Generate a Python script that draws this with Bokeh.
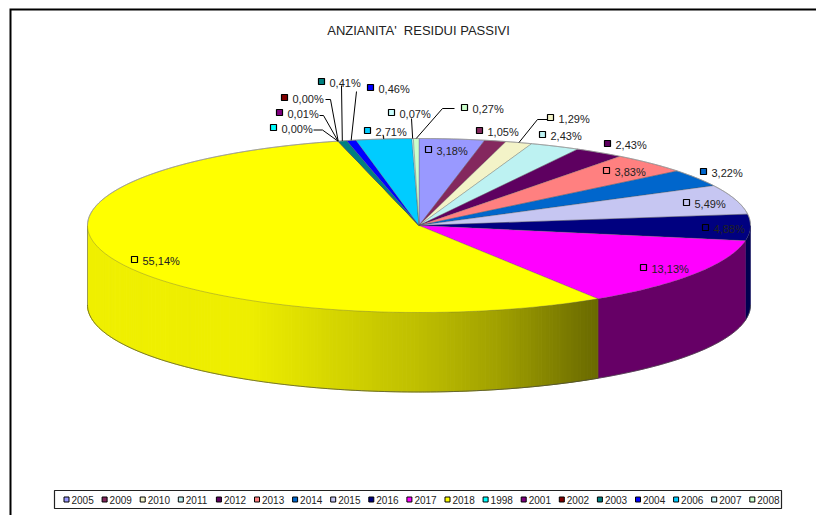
import numpy as np
from bokeh.plotting import figure
from bokeh.models import Range1d
from bokeh.core.properties import value
from bokeh.embed import file_html
from bokeh.resources import INLINE

# ---- data ----
title_text = "ANZIANITA'\u00a0 RESIDUI PASSIVI"
categories = ["2005", "2009", "2010", "2011", "2012", "2013", "2014", "2015", "2016", "2017",
              "2018", "1998", "2001", "2002", "2003", "2004", "2006", "2007", "2008"]
percent = [3.18, 1.05, 1.29, 2.43, 2.43, 3.83, 3.22, 5.49, 4.88, 13.13,
           55.14, 0.00, 0.01, 0.00, 0.41, 0.46, 2.71, 0.07, 0.27]
colors = ["#9999FF", "#84285E", "#F3F3C8", "#BDF2F2", "#5E0060", "#FF8080", "#0066CC", "#C6C6F2", "#000080", "#FF00FF",
          "#FFFF00", "#00FFFF", "#800080", "#800000", "#008080", "#0000FF", "#00CCFF", "#CCFFFF", "#CCFFCC"]
side_colors = {"2016": "#000050", "2017": "#660066"}

# ---- layout (screen pixels) ----
CX, CY, RX, RY, DEPTH = 418.5, 225.0, 331.5, 87.0, 79.5
key_xy = [(428, 149), (479, 130), (550, 117), (542, 134), (607, 143), (606, 170), (703, 171), (686, 202),
          (705, 227), (643, 267), (134, 259), (273, 127), (279, 112), (284, 97), (321, 81), (370, 87),
          (367, 130), (391, 112), (464, 107)]
leader_elbows = {"2010": [(547, 119), (537, 119)], "1998": [(313, 129.5), (322, 129.5)],
                 "2001": [(319, 115), (323, 115)], "2002": [(325, 99), (330, 99)],
                 "2003": [(341, 85)], "2004": [(356, 91)], "2006": [(383, 135)],
                 "2007": [(411, 118)], "2008": [(454, 108), (442, 108)]}

p = figure(width=816, height=515, output_backend="svg", toolbar_location=None,
           x_range=Range1d(0, 816), y_range=Range1d(515, 0), min_border=0)
p.axis.visible = False
p.grid.visible = False
p.outline_line_color = None
p.background_fill_color = "white"


def rim(deg):
    a = np.radians(deg)
    return CX + RX * np.sin(a), CY - RY * np.cos(a)


def yellow_shade(x):
    v = np.interp(x, [87, 250, 340, 420, 500, 598], [240, 238, 212, 190, 160, 105])
    return "#%02x%02x%02x" % (int(v), int(v), 0)


edges = np.concatenate([[0], np.cumsum(percent)]) * 360.0 / sum(percent)
mid = (edges[:-1] + edges[1:]) / 2

# side of the cylinder (only the front half, 90..270 degrees)
for i, cat in enumerate(categories):
    lo, hi = max(edges[i], 90), min(edges[i + 1], 270)
    if hi <= lo:
        continue
    if cat == "2018":
        steps = np.linspace(lo, hi, 181)
        for a0, a1 in zip(steps[:-1], steps[1:]):
            x0, y0 = rim(a0)
            x1, y1 = rim(a1)
            c = yellow_shade((x0 + x1) / 2)
            p.patch([x0, x1, x1, x0], [y0, y1, y1 + DEPTH, y0 + DEPTH], fill_color=c, line_color=c, line_width=1)
    else:
        t = np.linspace(lo, hi, 60)
        x, y = rim(t)
        p.patch(np.r_[x, x[::-1]], np.r_[y, (y + DEPTH)[::-1]], fill_color=side_colors[cat], line_color=side_colors[cat], line_width=0.5)

# outline of side
t = np.linspace(90, 270, 181)
x, y = rim(t)
p.line(x, y + DEPTH, line_color="#444444", line_width=0.7)
lx, ly = rim(270)
p.line([lx, lx], [ly, ly + DEPTH], line_color="#777777", line_width=0.7)

# top wedges
for i, cat in enumerate(categories):
    t = np.linspace(edges[i], edges[i + 1], max(2, int(edges[i + 1] - edges[i]) + 2))
    x, y = rim(t)
    p.patch(np.r_[CX, x], np.r_[CY, y], fill_color=colors[i], line_color="#555555", line_width=0.4, line_alpha=0.8)

# rim highlight along the back
t = np.linspace(-90, 90, 181)
x, y = rim(t)
p.line(x, y, line_color="#9a9a9a", line_width=0.8)

# leader lines
for cat, elbows in leader_elbows.items():
    i = categories.index(cat)
    ex, ey = rim(mid[i])
    xs = [e[0] for e in elbows] + [ex]
    ys = [e[1] for e in elbows] + [ey]
    p.line(xs, ys, line_color="#000000", line_width=1)

# labels
labels = [("%.2f%%" % v).replace(".", ",") for v in percent]
kx = [k[0] for k in key_xy]
ky = [k[1] for k in key_xy]
p.rect(kx, ky, width=6, height=6, fill_color=colors, line_color="#000000", line_width=1.2)
p.text([k + 8 for k in kx], [k + 1 for k in ky], text=labels, text_font=value("Liberation Sans"),
       text_font_size="11px", text_color="#222222", text_align="left", text_baseline="middle")

# title
p.text([418], [29.5], text=[title_text], text_font=value("Liberation Sans"), text_font_size="13px",
       text_color="#222222", text_align="center", text_baseline="middle")

# legend box
p.quad(left=[54], right=[781], top=[490], bottom=[508], fill_color="white", line_color="#222222", line_width=1.2)
lk = [66 + 38.1 * i for i in range(len(categories))]
p.rect(lk, [499] * len(lk), width=5, height=5, fill_color=colors, line_color="#000000", line_width=1)
p.text([k + 5 for k in lk], [499.5] * len(lk), text=categories, text_font=value("Liberation Sans"),
       text_font_size="10px", text_color="#222222", text_align="left", text_baseline="middle")

# page frame (open on the right and bottom)
p.line([10, 10, 816], [515, 9, 9], line_color="#000000", line_width=2, line_join="miter")

open("out.html", "w").write(file_html(p, INLINE))
